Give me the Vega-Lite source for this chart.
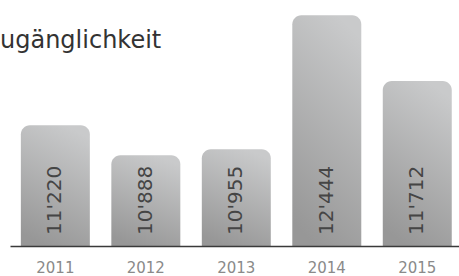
{
  "$schema": "https://vega.github.io/schema/vega-lite/v6.json",
  "width": 449,
  "height": 235,
  "autosize": {"type": "none"},
  "padding": {"left": 10, "top": 11, "right": 0, "bottom": 30},
  "background": "white",
  "config": {"view": {"stroke": null}},
  "title": {
    "text": "ugänglichkeit",
    "orient": "none",
    "anchor": "start",
    "frame": "group",
    "dx": -10,
    "dy": 37,
    "baseline": "alphabetic",
    "font": "DejaVu Sans",
    "fontSize": 24,
    "fontWeight": "normal",
    "color": "#333333"
  },
  "data": {
    "values": [
      {"year": "2011", "value": 11220, "label": "11'220"},
      {"year": "2012", "value": 10888, "label": "10'888"},
      {"year": "2013", "value": 10955, "label": "10'955"},
      {"year": "2014", "value": 12444, "label": "12'444"},
      {"year": "2015", "value": 11712, "label": "11'712"}
    ]
  },
  "encoding": {
    "x": {
      "field": "year",
      "type": "nominal",
      "sort": null,
      "scale": {"paddingInner": 0.2376, "paddingOuter": 0.1, "align": 0.6},
      "axis": {
        "title": null,
        "labelAngle": 0,
        "ticks": false,
        "labelPadding": 14,
        "labelFont": "DejaVu Sans",
        "labelFontSize": 15,
        "labelColor": "#8a8a8a",
        "domainColor": "#3a3a3a",
        "domainWidth": 1.5,
        "zindex": 1
      }
    }
  },
  "layer": [
    {
      "mark": {
        "type": "bar",
        "cornerRadiusTopLeft": 9,
        "cornerRadiusTopRight": 9,
        "color": {
          "gradient": "linear",
          "x1": 0.65, "y1": 0, "x2": 0.35, "y2": 1,
          "stops": [
            {"offset": 0, "color": "#c9cacb"},
            {"offset": 1, "color": "#979797"}
          ]
        }
      },
      "encoding": {
        "y": {
          "field": "value",
          "type": "quantitative",
          "scale": {"domain": [9880, 12490], "zero": false, "nice": false},
          "axis": null
        },
        "y2": {"datum": 9880}
      }
    },
    {
      "mark": {
        "type": "text",
        "angle": 270,
        "align": "left",
        "baseline": "middle",
        "dx": 11,
        "font": "DejaVu Sans",
        "fontSize": 20,
        "color": "#454545"
      },
      "encoding": {
        "y": {"datum": 9880, "type": "quantitative"},
        "text": {"field": "label"}
      }
    }
  ]
}
